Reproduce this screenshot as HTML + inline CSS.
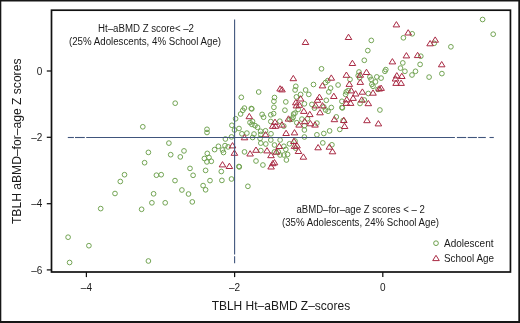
<!DOCTYPE html>
<html><head><meta charset="utf-8"><title>Scatter</title>
<style>
html,body{margin:0;padding:0;background:#fff;}
body{width:520px;height:323px;overflow:hidden;font-family:"Liberation Sans",sans-serif;}
svg{display:block;will-change:transform;font-family:"Liberation Sans",sans-serif;}
</style></head><body>
<svg width="520" height="323" viewBox="0 0 520 323">
<rect x="0" y="0" width="520" height="323" fill="#fff"/>
<g fill="#161616"><rect x="0" y="0" width="520" height="1.5"/><rect x="0" y="0" width="1.3" height="323"/><rect x="518.3" y="0" width="1.7" height="323"/><rect x="0" y="321" width="520" height="2"/></g>
<rect x="51.5" y="10.2" width="458.95" height="261.8" fill="#fff" stroke="#111" stroke-width="1.7"/>
<g stroke="#111" stroke-width="1.25" fill="none"><path d="M86.4 272V277.1"/><path d="M234.6 272V277.1"/><path d="M382.8 272V277.1"/><path d="M46.8 71.0H51.5"/><path d="M46.8 137.3H51.5"/><path d="M46.8 203.7H51.5"/><path d="M46.8 269.9H51.5"/></g>
<g font-size="10" fill="#1a1a1a"><text x="86.4" y="291.4" text-anchor="middle">–4</text><text x="234.6" y="291.4" text-anchor="middle">–2</text><text x="382.8" y="291.4" text-anchor="middle">0</text><text x="42.4" y="74.6" text-anchor="end">0</text><text x="42.4" y="140.9" text-anchor="end">–2</text><text x="42.4" y="207.3" text-anchor="end">–4</text><text x="42.4" y="273.5" text-anchor="end">–6</text></g>
<g font-size="10" fill="#1a1a1a" text-anchor="middle"><text x="146" y="31.6" textLength="96" lengthAdjust="spacingAndGlyphs">Ht–aBMD Z score&lt; –2</text><text x="145" y="44.6" textLength="152" lengthAdjust="spacingAndGlyphs">(25% Adolescents, 4% School Age)</text><text x="360.6" y="213.2" textLength="128.4" lengthAdjust="spacingAndGlyphs">aBMD–for–age Z scores &lt; – 2</text><text x="360.5" y="226.2" textLength="157" lengthAdjust="spacingAndGlyphs">(35% Adolescents, 24% School Age)</text></g>
<g font-size="10.1" fill="#1a1a1a"><text x="444" y="247.1" textLength="49.5" lengthAdjust="spacingAndGlyphs">Adolescent</text><text x="444" y="261.7" textLength="50" lengthAdjust="spacingAndGlyphs">School Age</text></g>
<g fill="none" stroke="#6c9f4b" stroke-width="1"><circle cx="436.0" cy="243.2" r="2.35"/></g><g fill="none" stroke="#a92a44" stroke-width="1"><path d="M436.0 255.3L439.3 260.6H432.7Z"/></g>
<text x="280.9" y="309.6" font-size="12.1" fill="#1a1a1a" text-anchor="middle" textLength="138.5" lengthAdjust="spacingAndGlyphs">TBLH Ht–aBMD Z–scores</text>
<text transform="translate(20.9 141.3) rotate(-90)" font-size="12.1" fill="#1a1a1a" text-anchor="middle" textLength="165.5" lengthAdjust="spacingAndGlyphs">TBLH aBMD–for–age Z scores</text>
<g fill="none" stroke="#6c9f4b" stroke-width="0.95"><circle cx="115.0" cy="193.5" r="2.35"/><circle cx="153.6" cy="193.8" r="2.35"/><circle cx="151.9" cy="202.8" r="2.35"/><circle cx="165.2" cy="202.8" r="2.35"/><circle cx="100.7" cy="208.6" r="2.35"/><circle cx="141.6" cy="209.3" r="2.35"/><circle cx="68.1" cy="237.2" r="2.35"/><circle cx="88.9" cy="245.7" r="2.35"/><circle cx="69.6" cy="262.5" r="2.35"/><circle cx="148.4" cy="261.0" r="2.35"/><circle cx="142.8" cy="126.8" r="2.35"/><circle cx="168.9" cy="143.1" r="2.35"/><circle cx="148.4" cy="152.4" r="2.35"/><circle cx="170.7" cy="154.7" r="2.35"/><circle cx="144.6" cy="162.7" r="2.35"/><circle cx="124.5" cy="174.7" r="2.35"/><circle cx="120.3" cy="181.5" r="2.35"/><circle cx="156.4" cy="175.2" r="2.35"/><circle cx="161.2" cy="174.7" r="2.35"/><circle cx="175.0" cy="180.6" r="2.35"/><circle cx="175.2" cy="103.2" r="2.35"/><circle cx="207.0" cy="129.3" r="2.35"/><circle cx="207.0" cy="132.5" r="2.35"/><circle cx="184.0" cy="150.9" r="2.35"/><circle cx="180.3" cy="156.9" r="2.35"/><circle cx="190.0" cy="168.4" r="2.35"/><circle cx="207.3" cy="153.4" r="2.35"/><circle cx="204.4" cy="158.5" r="2.35"/><circle cx="209.0" cy="157.5" r="2.35"/><circle cx="206.9" cy="161.9" r="2.35"/><circle cx="211.3" cy="161.3" r="2.35"/><circle cx="205.6" cy="170.4" r="2.35"/><circle cx="214.6" cy="149.6" r="2.35"/><circle cx="218.4" cy="146.3" r="2.35"/><circle cx="225.4" cy="139.0" r="2.35"/><circle cx="231.5" cy="136.9" r="2.35"/><circle cx="225.0" cy="145.6" r="2.35"/><circle cx="228.1" cy="146.9" r="2.35"/><circle cx="222.5" cy="150.0" r="2.35"/><circle cx="223.5" cy="152.5" r="2.35"/><circle cx="234.5" cy="130.0" r="2.35"/><circle cx="193.1" cy="175.3" r="2.35"/><circle cx="221.3" cy="171.5" r="2.35"/><circle cx="210.0" cy="180.6" r="2.35"/><circle cx="221.9" cy="180.4" r="2.35"/><circle cx="231.5" cy="179.0" r="2.35"/><circle cx="203.1" cy="185.6" r="2.35"/><circle cx="205.6" cy="189.8" r="2.35"/><circle cx="181.9" cy="190.0" r="2.35"/><circle cx="188.5" cy="194.0" r="2.35"/><circle cx="192.3" cy="201.9" r="2.35"/><circle cx="241.3" cy="97.3" r="2.35"/><circle cx="251.3" cy="108.5" r="2.35"/><circle cx="251.8" cy="108.9" r="2.35"/><circle cx="244.4" cy="108.1" r="2.35"/><circle cx="242.8" cy="110.3" r="2.35"/><circle cx="240.6" cy="114.0" r="2.35"/><circle cx="235.6" cy="118.8" r="2.35"/><circle cx="231.9" cy="125.3" r="2.35"/><circle cx="239.0" cy="128.5" r="2.35"/><circle cx="262.1" cy="114.4" r="2.35"/><circle cx="263.6" cy="117.2" r="2.35"/><circle cx="250.0" cy="122.5" r="2.35"/><circle cx="252.5" cy="121.3" r="2.35"/><circle cx="251.9" cy="124.4" r="2.35"/><circle cx="255.0" cy="125.6" r="2.35"/><circle cx="257.5" cy="127.3" r="2.35"/><circle cx="260.6" cy="131.3" r="2.35"/><circle cx="246.9" cy="133.1" r="2.35"/><circle cx="241.9" cy="133.8" r="2.35"/><circle cx="254.0" cy="134.0" r="2.35"/><circle cx="265.5" cy="130.8" r="2.35"/><circle cx="258.7" cy="92.0" r="2.35"/><circle cx="274.5" cy="97.5" r="2.35"/><circle cx="273.9" cy="101.3" r="2.35"/><circle cx="273.9" cy="107.3" r="2.35"/><circle cx="273.6" cy="113.6" r="2.35"/><circle cx="270.8" cy="114.8" r="2.35"/><circle cx="285.8" cy="101.9" r="2.35"/><circle cx="284.9" cy="110.2" r="2.35"/><circle cx="295.1" cy="90.0" r="2.35"/><circle cx="295.8" cy="86.3" r="2.35"/><circle cx="296.4" cy="96.9" r="2.35"/><circle cx="293.6" cy="114.0" r="2.35"/><circle cx="295.0" cy="113.1" r="2.35"/><circle cx="293.1" cy="117.3" r="2.35"/><circle cx="292.0" cy="119.2" r="2.35"/><circle cx="270.8" cy="121.5" r="2.35"/><circle cx="279.8" cy="121.2" r="2.35"/><circle cx="283.8" cy="126.1" r="2.35"/><circle cx="296.8" cy="122.7" r="2.35"/><circle cx="289.9" cy="119.6" r="2.35"/><circle cx="298.2" cy="109.4" r="2.35"/><circle cx="301.9" cy="119.1" r="2.35"/><circle cx="252.6" cy="137.5" r="2.35"/><circle cx="260.8" cy="134.4" r="2.35"/><circle cx="271.0" cy="133.8" r="2.35"/><circle cx="260.1" cy="138.5" r="2.35"/><circle cx="260.8" cy="143.1" r="2.35"/><circle cx="265.8" cy="144.0" r="2.35"/><circle cx="270.8" cy="140.0" r="2.35"/><circle cx="280.1" cy="140.0" r="2.35"/><circle cx="274.5" cy="145.0" r="2.35"/><circle cx="283.9" cy="146.3" r="2.35"/><circle cx="289.5" cy="143.8" r="2.35"/><circle cx="285.8" cy="149.4" r="2.35"/><circle cx="278.3" cy="151.9" r="2.35"/><circle cx="274.5" cy="151.9" r="2.35"/><circle cx="280.1" cy="155.0" r="2.35"/><circle cx="283.9" cy="155.0" r="2.35"/><circle cx="287.6" cy="154.4" r="2.35"/><circle cx="286.4" cy="160.0" r="2.35"/><circle cx="260.8" cy="150.6" r="2.35"/><circle cx="244.5" cy="151.9" r="2.35"/><circle cx="256.0" cy="161.0" r="2.35"/><circle cx="262.9" cy="165.0" r="2.35"/><circle cx="238.9" cy="166.5" r="2.35"/><circle cx="239.3" cy="166.9" r="2.35"/><circle cx="247.9" cy="186.3" r="2.35"/><circle cx="304.4" cy="130.0" r="2.35"/><circle cx="304.4" cy="125.6" r="2.35"/><circle cx="304.4" cy="137.0" r="2.35"/><circle cx="316.9" cy="134.8" r="2.35"/><circle cx="323.8" cy="133.5" r="2.35"/><circle cx="329.6" cy="130.9" r="2.35"/><circle cx="339.8" cy="129.4" r="2.35"/><circle cx="322.8" cy="142.9" r="2.35"/><circle cx="331.9" cy="144.8" r="2.35"/><circle cx="295.6" cy="148.1" r="2.35"/><circle cx="295.0" cy="141.0" r="2.35"/><circle cx="305.6" cy="90.0" r="2.35"/><circle cx="308.8" cy="94.4" r="2.35"/><circle cx="300.6" cy="94.4" r="2.35"/><circle cx="313.5" cy="84.5" r="2.35"/><circle cx="330.6" cy="88.1" r="2.35"/><circle cx="328.8" cy="91.9" r="2.35"/><circle cx="338.1" cy="85.0" r="2.35"/><circle cx="326.3" cy="100.3" r="2.35"/><circle cx="311.9" cy="104.4" r="2.35"/><circle cx="314.4" cy="108.1" r="2.35"/><circle cx="323.8" cy="106.9" r="2.35"/><circle cx="331.3" cy="107.5" r="2.35"/><circle cx="328.1" cy="111.3" r="2.35"/><circle cx="325.6" cy="110.0" r="2.35"/><circle cx="341.9" cy="101.3" r="2.35"/><circle cx="341.9" cy="107.5" r="2.35"/><circle cx="342.4" cy="107.9" r="2.35"/><circle cx="346.3" cy="91.9" r="2.35"/><circle cx="345.6" cy="94.4" r="2.35"/><circle cx="348.1" cy="90.6" r="2.35"/><circle cx="360.0" cy="103.5" r="2.35"/><circle cx="336.3" cy="116.9" r="2.35"/><circle cx="343.1" cy="120.6" r="2.35"/><circle cx="304.4" cy="103.8" r="2.35"/><circle cx="307.5" cy="118.8" r="2.35"/><circle cx="316.9" cy="123.1" r="2.35"/><circle cx="321.5" cy="68.8" r="2.35"/><circle cx="327.8" cy="80.6" r="2.35"/><circle cx="325.6" cy="82.5" r="2.35"/><circle cx="350.0" cy="79.4" r="2.35"/><circle cx="359.0" cy="72.0" r="2.35"/><circle cx="358.2" cy="75.6" r="2.35"/><circle cx="359.6" cy="77.8" r="2.35"/><circle cx="367.8" cy="50.6" r="2.35"/><circle cx="364.3" cy="60.3" r="2.35"/><circle cx="385.8" cy="69.6" r="2.35"/><circle cx="384.9" cy="71.3" r="2.35"/><circle cx="402.8" cy="62.9" r="2.35"/><circle cx="400.5" cy="68.1" r="2.35"/><circle cx="404.9" cy="71.3" r="2.35"/><circle cx="420.1" cy="64.4" r="2.35"/><circle cx="420.8" cy="56.2" r="2.35"/><circle cx="415.5" cy="71.3" r="2.35"/><circle cx="412.0" cy="75.0" r="2.35"/><circle cx="369.9" cy="76.9" r="2.35"/><circle cx="371.1" cy="79.4" r="2.35"/><circle cx="376.8" cy="76.9" r="2.35"/><circle cx="381.1" cy="78.1" r="2.35"/><circle cx="375.5" cy="81.9" r="2.35"/><circle cx="371.8" cy="84.4" r="2.35"/><circle cx="371.3" cy="40.4" r="2.35"/><circle cx="403.4" cy="37.8" r="2.35"/><circle cx="412.2" cy="33.8" r="2.35"/><circle cx="373.0" cy="86.3" r="2.35"/><circle cx="378.0" cy="89.4" r="2.35"/><circle cx="368.3" cy="93.5" r="2.35"/><circle cx="364.3" cy="100.0" r="2.35"/><circle cx="379.9" cy="110.0" r="2.35"/><circle cx="482.6" cy="19.5" r="2.35"/><circle cx="493.2" cy="34.2" r="2.35"/><circle cx="450.9" cy="46.8" r="2.35"/><circle cx="434.2" cy="43.3" r="2.35"/><circle cx="441.9" cy="73.6" r="2.35"/><circle cx="429.1" cy="77.1" r="2.35"/></g>
<g fill="none" stroke="#a92a44" stroke-width="1"><path d="M249.3 113.4L252.6 118.7H246.0Z"/><path d="M232.5 142.6L235.8 147.9H229.2Z"/><path d="M234.4 150.0L237.7 155.3H231.1Z"/><path d="M222.5 161.6L225.8 166.9H219.2Z"/><path d="M229.4 163.2L232.7 168.5H226.1Z"/><path d="M244.5 134.5L247.8 139.8H241.2Z"/><path d="M265.6 131.6L268.9 136.9H262.3Z"/><path d="M272.7 123.0L276.0 128.3H269.4Z"/><path d="M275.5 123.0L278.8 128.3H272.2Z"/><path d="M286.1 130.2L289.4 135.5H282.8Z"/><path d="M294.5 129.6L297.8 134.9H291.2Z"/><path d="M250.1 150.7L253.4 156.0H246.8Z"/><path d="M256.0 147.0L259.3 152.3H252.7Z"/><path d="M267.0 147.6L270.3 152.9H263.7Z"/><path d="M271.0 152.4L274.3 157.7H267.7Z"/><path d="M276.4 148.9L279.7 154.2H273.1Z"/><path d="M279.3 143.2L282.6 148.5H276.0Z"/><path d="M293.9 138.2L297.2 143.5H290.6Z"/><path d="M294.5 143.1L297.8 148.4H291.2Z"/><path d="M297.0 142.6L300.3 147.9H293.7Z"/><path d="M298.5 148.2L301.8 153.5H295.2Z"/><path d="M274.5 159.5L277.8 164.8H271.2Z"/><path d="M272.8 160.4L276.1 165.7H269.5Z"/><path d="M271.1 163.7L274.4 169.0H267.8Z"/><path d="M280.1 85.7L283.4 91.0H276.8Z"/><path d="M282.0 86.6L285.3 91.9H278.7Z"/><path d="M295.8 99.5L299.1 104.8H292.5Z"/><path d="M296.4 102.6L299.7 107.9H293.1Z"/><path d="M288.5 115.8L291.8 121.1H285.2Z"/><path d="M275.0 119.1L278.3 124.4H271.7Z"/><path d="M282.0 121.8L285.3 127.1H278.7Z"/><path d="M299.1 121.8L302.4 127.1H295.8Z"/><path d="M304.7 118.4L308.0 123.7H301.4Z"/><path d="M303.8 108.1L307.1 113.4H300.5Z"/><path d="M309.8 111.3L313.1 116.6H306.5Z"/><path d="M310.4 120.5L313.7 125.8H307.1Z"/><path d="M293.3 75.4L296.6 80.7H290.0Z"/><path d="M344.6 123.2L347.9 128.5H341.3Z"/><path d="M318.1 144.5L321.4 149.8H314.8Z"/><path d="M329.4 143.9L332.7 149.2H326.1Z"/><path d="M332.5 148.5L335.8 153.8H329.2Z"/><path d="M303.4 153.9L306.7 159.2H300.1Z"/><path d="M322.5 82.6L325.8 87.9H319.2Z"/><path d="M333.8 93.2L337.1 98.5H330.5Z"/><path d="M319.4 94.1L322.7 99.4H316.1Z"/><path d="M317.5 97.0L320.8 102.3H314.2Z"/><path d="M300.6 95.7L303.9 101.0H297.3Z"/><path d="M299.4 102.0L302.7 107.3H296.1Z"/><path d="M315.6 102.6L318.9 107.9H312.3Z"/><path d="M322.5 102.6L325.8 107.9H319.2Z"/><path d="M320.0 109.5L323.3 114.8H316.7Z"/><path d="M315.0 121.8L318.3 127.1H311.7Z"/><path d="M334.4 116.4L337.7 121.7H331.1Z"/><path d="M343.8 117.2L347.1 122.5H340.5Z"/><path d="M351.3 87.6L354.6 92.9H348.0Z"/><path d="M355.6 90.7L358.9 96.0H352.3Z"/><path d="M353.1 95.1L356.4 100.4H349.8Z"/><path d="M346.8 96.5L350.1 101.8H343.5Z"/><path d="M346.3 100.1L349.6 105.4H343.0Z"/><path d="M350.6 100.1L353.9 105.4H347.3Z"/><path d="M349.3 81.1L352.6 86.4H346.0Z"/><path d="M352.4 60.2L355.7 65.5H349.1Z"/><path d="M346.4 72.0L349.7 77.3H343.1Z"/><path d="M331.3 74.9L334.6 80.2H328.0Z"/><path d="M360.3 71.9L363.6 77.2H357.0Z"/><path d="M360.3 79.1L363.6 84.4H357.0Z"/><path d="M305.5 39.2L308.8 44.5H302.2Z"/><path d="M348.5 34.2L351.8 39.5H345.2Z"/><path d="M396.4 21.6L399.7 26.9H393.1Z"/><path d="M408.2 29.7L411.5 35.0H404.9Z"/><path d="M406.4 52.6L409.7 57.9H403.1Z"/><path d="M417.6 52.3L420.9 57.6H414.3Z"/><path d="M392.4 58.6L395.7 63.9H389.1Z"/><path d="M366.5 69.2L369.8 74.5H363.2Z"/><path d="M396.8 72.6L400.1 77.9H393.5Z"/><path d="M401.8 73.2L405.1 78.5H398.5Z"/><path d="M395.5 75.7L398.8 81.0H392.2Z"/><path d="M396.1 80.1L399.4 85.4H392.8Z"/><path d="M401.1 80.1L404.4 85.4H397.8Z"/><path d="M362.4 88.9L365.7 94.2H359.1Z"/><path d="M373.0 89.9L376.3 95.2H369.7Z"/><path d="M379.3 85.7L382.6 91.0H376.0Z"/><path d="M381.1 85.1L384.4 90.4H377.8Z"/><path d="M361.7 96.8L365.0 102.1H358.4Z"/><path d="M368.3 100.4L371.6 105.7H365.0Z"/><path d="M367.0 117.4L370.3 122.7H363.7Z"/><path d="M378.4 120.6L381.7 125.9H375.1Z"/><path d="M435.2 36.9L438.5 42.2H431.9Z"/><path d="M430.1 40.5L433.4 45.8H426.8Z"/><path d="M441.7 61.5L445.0 66.8H438.4Z"/></g>
<g stroke="#40557c" stroke-width="1.1" fill="none"><path d="M234.6 19.5V254.4"/><path d="M234.6 256.2V263.2"/><path d="M67.8 137.5H73.9"/><path d="M75 137.5H84.8"/><path d="M86.2 137.5H454.9"/><path d="M456.9 137.5H466.2"/><path d="M467.7 137.5H476.9"/><path d="M478.2 137.5H485.8"/><path d="M489.5 137.5H493.8"/></g>
</svg></body></html>
